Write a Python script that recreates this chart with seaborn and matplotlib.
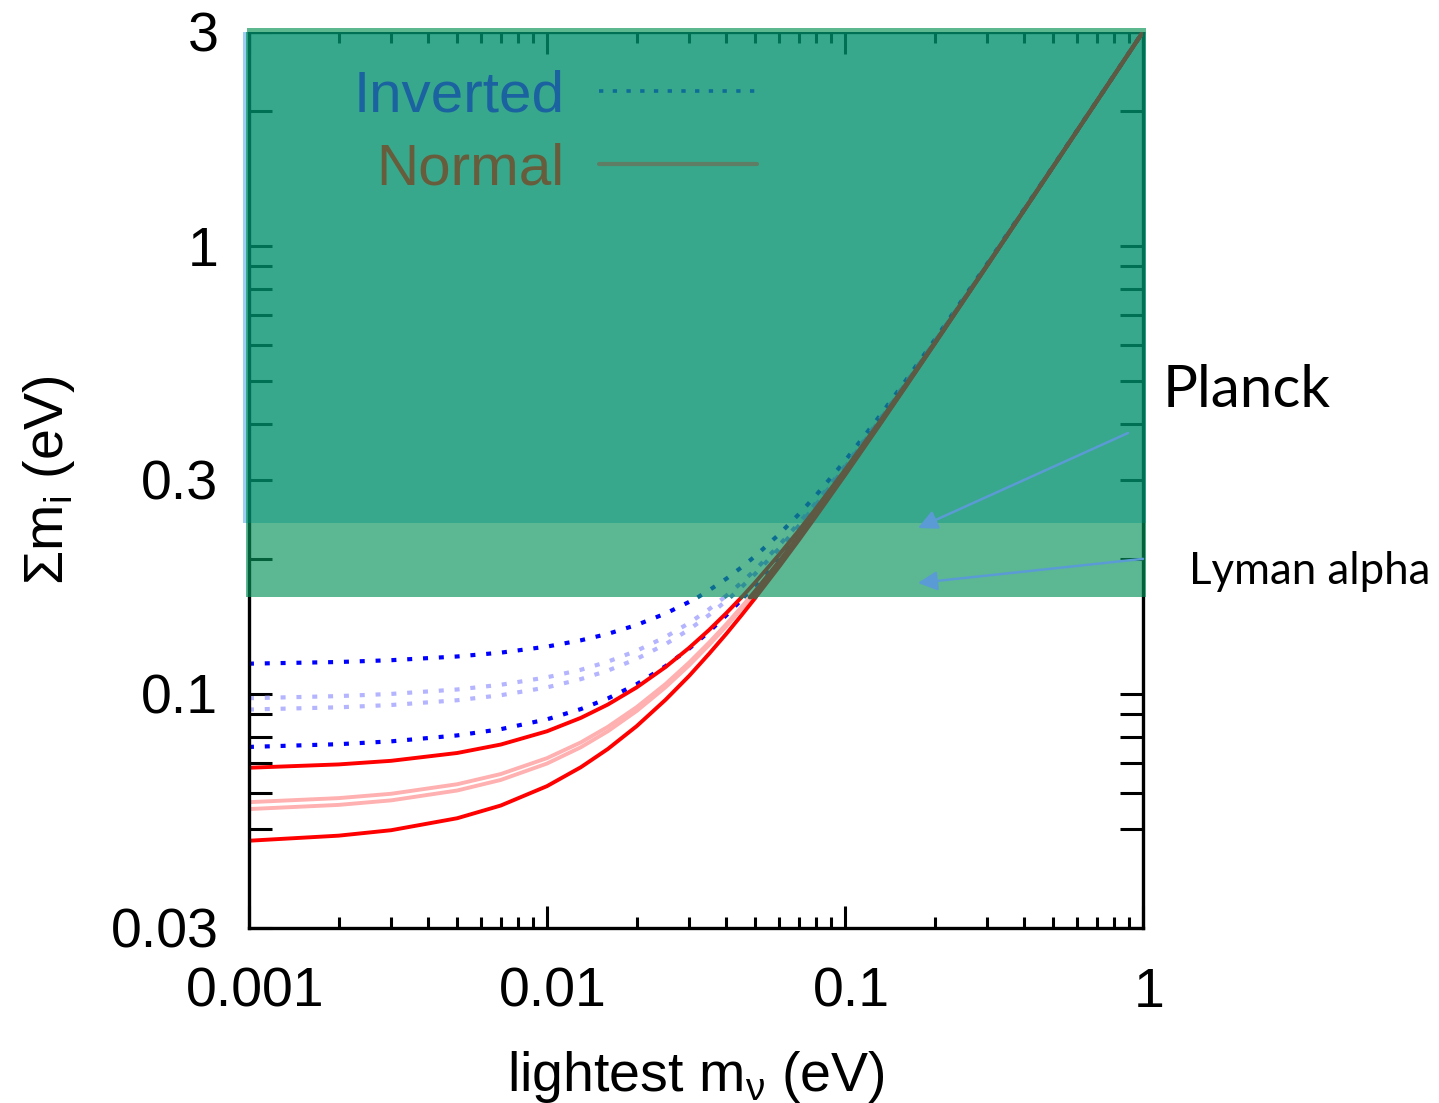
import matplotlib
matplotlib.use("Agg")
import matplotlib.pyplot as plt
import matplotlib.ticker as mticker
from matplotlib.lines import Line2D
from matplotlib.patches import Rectangle
from matplotlib.transforms import ScaledTranslation
import pandas as pd
import seaborn as sns

# lightest neutrino mass (eV)
m_lightest = [0.001, 0.002, 0.003, 0.005, 0.007, 0.01, 0.013, 0.016, 0.02, 0.025,
              0.03, 0.035, 0.04, 0.045, 0.05, 0.06, 0.07, 0.08, 0.1, 0.13, 0.16,
              0.2, 0.3, 0.5, 0.7, 1.0]

# sum of neutrino masses (eV), normal ordering
normal_upper = [0.06835, 0.06953, 0.07083, 0.07374, 0.07701, 0.08244, 0.08834, 0.09457,
                0.1033, 0.1147, 0.1266, 0.1388, 0.1514, 0.1642, 0.1773, 0.2041, 0.2314,
                0.2593, 0.3160, 0.4026, 0.4904, 0.6084, 0.9057, 1.5034, 2.1025, 3.0017]
normal_mid_hi = [0.05727, 0.05847, 0.05979, 0.06280, 0.06618, 0.07180, 0.07788, 0.08433,
                 0.09335, 0.1051, 0.1174, 0.1301, 0.1430, 0.1563, 0.1697, 0.1972, 0.2251,
                 0.2535, 0.3111, 0.3987, 0.4871, 0.6058, 0.9039, 1.5023, 2.1017, 3.0012]
normal_mid_lo = [0.05527, 0.05647, 0.05780, 0.06081, 0.06420, 0.06984, 0.07596, 0.08244,
                 0.09151, 0.1034, 0.1157, 0.1285, 0.1415, 0.1548, 0.1684, 0.1959, 0.2240,
                 0.2525, 0.3102, 0.3980, 0.4866, 0.6053, 0.9036, 1.5021, 2.1015, 3.0011]
normal_lower = [0.04697, 0.04821, 0.04958, 0.05273, 0.05629, 0.06218, 0.06855, 0.07526,
                0.08465, 0.09693, 0.1096, 0.1228, 0.1361, 0.1498, 0.1636, 0.1917, 0.2202,
                0.2491, 0.3074, 0.3958, 0.4847, 0.6038, 0.9025, 1.5015, 2.1011, 3.0008]

# sum of neutrino masses (eV), inverted ordering
inverted_upper = [0.1167, 0.1177, 0.1188, 0.1211, 0.1235, 0.1274, 0.1316, 0.1360,
                  0.1424, 0.1510, 0.1603, 0.1702, 0.1806, 0.1916, 0.2029, 0.2267, 0.2516,
                  0.2774, 0.3310, 0.4146, 0.5003, 0.6164, 0.9111, 1.5067, 2.1048, 3.0034]
inverted_mid_hi = [0.09772, 0.09878, 0.09989, 0.1022, 0.1047, 0.1088, 0.1131, 0.1179,
                   0.1247, 0.1339, 0.1438, 0.1544, 0.1655, 0.1771, 0.1891, 0.2141, 0.2402,
                   0.2670, 0.3222, 0.4074, 0.4943, 0.6115, 0.9077, 1.5047, 2.1033, 3.0023]
inverted_mid_lo = [0.09219, 0.09325, 0.09436, 0.09671, 0.09923, 0.1033, 0.1078, 0.1126,
                   0.1196, 0.1290, 0.1391, 0.1499, 0.1613, 0.1731, 0.1853, 0.2107, 0.2371,
                   0.2642, 0.3198, 0.4055, 0.4927, 0.6103, 0.9069, 1.5042, 2.1030, 3.0021]
inverted_lower = [0.07607, 0.07715, 0.07828, 0.08071, 0.08334, 0.08766, 0.09242, 0.09758,
                  0.1050, 0.1152, 0.1261, 0.1376, 0.1497, 0.1622, 0.1750, 0.2015, 0.2289,
                  0.2567, 0.3136, 0.4006, 0.4887, 0.6070, 0.9047, 1.5028, 2.1020, 3.0014]

# lightest mass at which each curve reaches the Lyman-alpha bound
normal_cross = [0.0449, 0.0479, 0.0485, 0.0501]
inverted_cross = [0.0320, 0.0393, 0.0412, 0.0457]

# cosmological upper bounds on the mass sum (eV)
planck_bound = 0.24
lyman_bound = 0.164

x_ticks = [0.001, 0.01, 0.1, 1]
x_tick_labels = ["0.001", "0.01", "0.1", "1"]
y_ticks = [0.03, 0.1, 0.3, 1, 3]
y_tick_labels = ["0.03", "0.1", "0.3", "1", "3"]
y_minor_ticks = [0.05, 0.06, 0.07, 0.08, 0.09, 0.2, 0.4, 0.5, 0.6, 0.7, 0.8, 0.9, 2]

sns.set_theme(style="ticks")
plt.rcParams["font.family"] = ["Liberation Sans", "DejaVu Sans"]
plt.rcParams["mathtext.fontset"] = "custom"
plt.rcParams["mathtext.rm"] = "Liberation Sans"

fig = plt.figure(figsize=(14.39, 11.03), dpi=100)
ax = fig.add_axes([0.1730, 0.1587, 0.6213, 0.8123])
ax.set_xscale("log")
ax.set_yscale("log")
ax.set_xlim(0.001, 1)
ax.set_ylim(0.03, 3)


def split_at_bound(values, m_cross):
    """Split one curve into the part below and above the Lyman-alpha bound."""
    below = [(m, v) for m, v in zip(m_lightest, values) if v < lyman_bound]
    above = [(m, v) for m, v in zip(m_lightest, values) if v >= lyman_bound]
    edge = [(m_cross, lyman_bound)]
    cols = ["m", "sum"]
    return (pd.DataFrame(below + edge, columns=cols),
            pd.DataFrame(edge + above, columns=cols))


dotted = (0, (1.2, 2.6))
normal_series = [
    (normal_upper, normal_cross[0], "#ff0000"),
    (normal_mid_hi, normal_cross[1], "#ffb0b0"),
    (normal_mid_lo, normal_cross[2], "#ffb0b0"),
    (normal_lower, normal_cross[3], "#ff0000"),
]
inverted_series = [
    (inverted_upper, inverted_cross[0], "#0000ff", "#0b6c92"),
    (inverted_mid_hi, inverted_cross[1], "#b4b4ff", "#2f8e98"),
    (inverted_mid_lo, inverted_cross[2], "#b4b4ff", "#2f8e98"),
    (inverted_lower, inverted_cross[3], "#0000ff", "#0b6c92"),
]

for values, mc, col, col_band in inverted_series:
    low, high = split_at_bound(values, mc)
    sns.lineplot(data=low, x="m", y="sum", ax=ax, color=col, lw=3.0, ls=dotted,
                 estimator=None, sort=False, legend=False, zorder=2.2)
    sns.lineplot(data=high, x="m", y="sum", ax=ax, color=col_band, lw=3.0, ls=dotted,
                 estimator=None, sort=False, legend=False, zorder=4)

for values, mc, col in normal_series:
    low, high = split_at_bound(values, mc)
    sns.lineplot(data=low, x="m", y="sum", ax=ax, color=col, lw=2.8,
                 estimator=None, sort=False, legend=False, zorder=2.3)
    sns.lineplot(data=high, x="m", y="sum", ax=ax, color="#5e5943", lw=2.8,
                 estimator=None, sort=False, legend=False, zorder=4.5)

# shaded exclusion regions
ax.axhspan(lyman_bound, planck_bound, xmin=-0.003, xmax=1.003, color="#069359",
           alpha=0.655, lw=0, zorder=3, clip_on=False)
ax.axhspan(planck_bound, 3.0, xmin=-0.003, xmax=1.003, color="#00906c",
           alpha=0.78, lw=0, zorder=3, clip_on=False)
ax.axhspan(3.0, 3.065, xmin=-0.002, xmax=1.003, color="#5cb88f",
           lw=0, zorder=3, clip_on=False)
ax.add_patch(Rectangle((-0.0068, planck_bound), 0.0038, 3.0 - planck_bound,
                       transform=ax.get_yaxis_transform(), color="#9dcff2",
                       lw=0, zorder=3, clip_on=False))

# axes, ticks and labels
for side in ax.spines.values():
    side.set_linewidth(2.4)
    side.set_color("black")
ax.set_xticks(x_ticks)
ax.set_xticklabels(x_tick_labels)
ax.xaxis.set_minor_locator(mticker.LogLocator(base=10, subs=range(2, 10)))
ax.xaxis.set_minor_formatter(mticker.NullFormatter())
ax.set_yticks(y_ticks)
ax.set_yticklabels(y_tick_labels)
ax.yaxis.set_minor_locator(mticker.FixedLocator(y_minor_ticks))
ax.yaxis.set_minor_formatter(mticker.NullFormatter())

ax.tick_params(which="both", direction="in", top=True, right=True, width=2.2,
               color="black", labelsize=40, labelcolor="black")
ax.tick_params(axis="x", which="major", length=16, pad=28)
ax.tick_params(axis="x", which="minor", length=8)
ax.tick_params(axis="y", which="both", length=16.5, pad=22)
shift = ScaledTranslation(6 / 100, 0, fig.dpi_scale_trans)
for lab in ax.get_xticklabels():
    lab.set_transform(lab.get_transform() + shift)

ax.set_xlabel("lightest m$_\\mathregular{ν}$ (eV)", fontsize=40, labelpad=22,
              color="black")
ax.set_ylabel("Σm$_\\mathregular{i}$ (eV)", fontsize=40, labelpad=24, color="black")

handles = [Line2D([], [], color="#0e6c98", lw=2.6, ls=dotted),
           Line2D([], [], color="#5f7d64", lw=3.0)]
leg = ax.legend(handles, ["Inverted", "Normal"], loc="upper right",
                bbox_to_anchor=(0.568, 0.958), markerfirst=False, frameon=False,
                fontsize=42, handlelength=2.7, handletextpad=0.6,
                labelspacing=0.32, borderpad=0, borderaxespad=0,
                labelcolor=["#1b62a0", "#675d3c"])
leg.set_zorder(6)

arrow_style = dict(arrowstyle="-|>", color="#5b9bd5", lw=1.8, mutation_scale=29,
                   shrinkA=0, shrinkB=0)
ax.annotate("", xy=(0.1757, 0.2344), xytext=(0.891, 0.382), xycoords="data",
            arrowprops=arrow_style, annotation_clip=False, zorder=7)
ax.annotate("", xy=(0.1757, 0.1767), xytext=(1.0, 0.2), xycoords="data",
            arrowprops=arrow_style, annotation_clip=False, zorder=7)

fig.text(1163 / 1439, 1 - 407 / 1103, "Planck", fontsize=42, family="Lato",
         ha="left", va="baseline", color="black")
fig.text(1189 / 1439, 1 - 584 / 1103, "Lyman alpha", fontsize=31.5, family="Lato",
         ha="left", va="baseline", color="black")

fig.savefig("out.png", dpi=100)
